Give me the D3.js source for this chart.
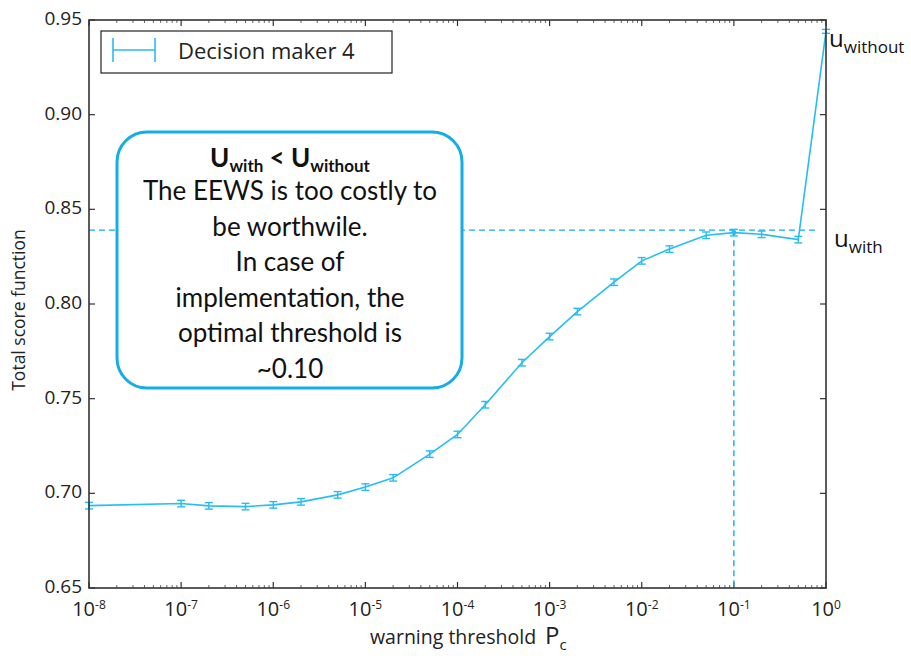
<!DOCTYPE html>
<html>
<head>
<meta charset="utf-8">
<script src="https://cdn.jsdelivr.net/npm/d3@7"></script>
<style>
  html, body { margin: 0; padding: 0; background: #fff; }
  svg { display: block; }
</style>
</head>
<body>
<svg id="chart" width="911" height="658"></svg>
<script>
// ---- data ----
const thresholds = [1e-8, 1e-7, 2e-7, 5e-7, 1e-6, 2e-6, 5e-6, 1e-5, 2e-5, 5e-5, 1e-4, 2e-4, 5e-4, 1e-3, 2e-3, 5e-3, 1e-2, 2e-2, 5e-2, 1e-1, 2e-1, 5e-1, 1];
const scores = [0.6935, 0.6946, 0.6934, 0.6930, 0.6939, 0.6955, 0.6992, 0.7033, 0.7082, 0.7207, 0.7311, 0.7468, 0.7690, 0.7828, 0.7960, 0.8115, 0.8228, 0.8290, 0.8363, 0.8377, 0.8368, 0.8340, 0.9440];
const errors = [0.0012, 0.0012, 0.0012, 0.0012, 0.0012, 0.0012, 0.0012, 0.0012, 0.0012, 0.0012, 0.0012, 0.0012, 0.0012, 0.0012, 0.0012, 0.0012, 0.0012, 0.0012, 0.0012, 0.0012, 0.0012, 0.0012, 0.0005];
const xTickExps = [-8, -7, -6, -5, -4, -3, -2, -1, 0];
const yTicks = [0.65, 0.70, 0.75, 0.80, 0.85, 0.90, 0.95];
const uWith = 0.839;
const optimalThreshold = 0.1;
const dashedHStart = 1e-8, dashedHEnd = 0.8;
const seriesName = "Decision maker 4";
const boxLines = ["The EEWS is too costly to", "be worthwile.", "In case of", "implementation, the", "optimal threshold is", "~0.10"];

// ---- layout ----
const svg = d3.select("#chart");
const L = 89, R = 826, T = 20, B = 588;
const x = d3.scaleLog().domain([1e-8, 1]).range([L, R]);
const y = d3.scaleLinear().domain([0.65, 0.95]).range([B, T]);
const lineColor = "#27bdf4";
const dashColor = "#1aa9e6";
const axisColor = "#333";
const tickFont = "'Open Sans', sans-serif";

// minor + major x ticks (inward, top and bottom)
const minorX = [];
for (let e = -8; e < 0; e++) for (let m = 2; m <= 9; m++) minorX.push(m * Math.pow(10, e));
const gT = svg.append("g");
gT.selectAll("line.minb").data(minorX).join("line")
  .attr("x1", d => x(d)).attr("x2", d => x(d)).attr("y1", B).attr("y2", B - 3)
  .attr("stroke", "#666").attr("stroke-width", 1);
gT.selectAll("line.mint").data(minorX).join("line")
  .attr("x1", d => x(d)).attr("x2", d => x(d)).attr("y1", T).attr("y2", T + 3)
  .attr("stroke", "#666").attr("stroke-width", 1);
gT.selectAll("line.majb").data(xTickExps).join("line")
  .attr("x1", d => x(Math.pow(10, d))).attr("x2", d => x(Math.pow(10, d))).attr("y1", B).attr("y2", B - 6)
  .attr("stroke", axisColor).attr("stroke-width", 1.2);
gT.selectAll("line.majt").data(xTickExps).join("line")
  .attr("x1", d => x(Math.pow(10, d))).attr("x2", d => x(Math.pow(10, d))).attr("y1", T).attr("y2", T + 6)
  .attr("stroke", axisColor).attr("stroke-width", 1.2);
gT.selectAll("line.yl").data(yTicks).join("line")
  .attr("x1", L).attr("x2", L + 6).attr("y1", d => y(d)).attr("y2", d => y(d))
  .attr("stroke", axisColor).attr("stroke-width", 1.2);
gT.selectAll("line.yr").data(yTicks).join("line")
  .attr("x1", R).attr("x2", R - 6).attr("y1", d => y(d)).attr("y2", d => y(d))
  .attr("stroke", axisColor).attr("stroke-width", 1.2);

// x tick labels
const xl = svg.append("g").selectAll("text").data(xTickExps).join("text")
  .attr("x", d => x(Math.pow(10, d))).attr("y", 616)
  .attr("text-anchor", "middle").attr("font-family", tickFont).attr("font-size", 20).attr("fill", "#222");
xl.append("tspan").text("10");
xl.append("tspan").attr("font-size", 12).attr("dy", -7).text(d => d === 0 ? "0" : "-" + Math.abs(d));

// y tick labels
svg.append("g").selectAll("text").data(yTicks).join("text")
  .attr("x", 82).attr("y", d => y(d) + 5)
  .attr("text-anchor", "end").attr("font-family", tickFont).attr("font-size", 19).attr("fill", "#222")
  .text(d => d.toFixed(2));

// axis labels
svg.append("text").attr("transform", `translate(25,${(T + B) / 2 + 6}) rotate(-90)`)
  .attr("text-anchor", "middle").attr("font-family", tickFont).attr("font-size", 17.5).attr("fill", "#222")
  .text("Total score function");
const xlab = svg.append("text").attr("x", 370).attr("y", 644)
  .attr("font-family", tickFont).attr("font-size", 19.5).attr("fill", "#222");
xlab.append("tspan").text("warning threshold");
xlab.append("tspan").attr("dx", 9).attr("font-size", 24).text("P");
xlab.append("tspan").attr("font-size", 15).attr("dy", 6).text("c");

// dashed reference lines
svg.append("line")
  .attr("x1", x(dashedHStart)).attr("x2", x(dashedHEnd)).attr("y1", y(uWith)).attr("y2", y(uWith))
  .attr("stroke", dashColor).attr("stroke-width", 1.4).attr("stroke-dasharray", "6,4");
svg.append("line")
  .attr("x1", x(optimalThreshold)).attr("x2", x(optimalThreshold)).attr("y1", y(uWith)).attr("y2", B)
  .attr("stroke", dashColor).attr("stroke-width", 1.4).attr("stroke-dasharray", "6,4");

// data line
const pts = thresholds.map((t, i) => ({ t, v: scores[i], e: errors[i] }));
svg.append("path").datum(pts)
  .attr("d", d3.line().x(d => x(d.t)).y(d => y(d.v)))
  .attr("fill", "none").attr("stroke", lineColor).attr("stroke-width", 1.6);
const eb = svg.append("g").selectAll("g").data(pts).join("g").attr("stroke", lineColor).attr("stroke-width", 1.4);
eb.append("line").attr("x1", d => x(d.t)).attr("x2", d => x(d.t)).attr("y1", d => y(d.v - d.e) + 1).attr("y2", d => y(d.v + d.e) - 1);
eb.append("line").attr("x1", d => x(d.t) - 4).attr("x2", d => x(d.t) + 4).attr("y1", d => y(d.v + d.e) - 1).attr("y2", d => y(d.v + d.e) - 1);
eb.append("line").attr("x1", d => x(d.t) - 4).attr("x2", d => x(d.t) + 4).attr("y1", d => y(d.v - d.e) + 1).attr("y2", d => y(d.v - d.e) + 1);
svg.append("circle").attr("cx", x(optimalThreshold)).attr("cy", y(scores[thresholds.indexOf(optimalThreshold)]))
  .attr("r", 2.5).attr("fill", lineColor);

// frame
svg.append("rect").attr("x", L).attr("y", T).attr("width", R - L).attr("height", B - T)
  .attr("fill", "none").attr("stroke", axisColor).attr("stroke-width", 1.6);

// legend
svg.append("rect").attr("x", 101).attr("y", 31).attr("width", 291).attr("height", 42)
  .attr("fill", "#fff").attr("stroke", "#222").attr("stroke-width", 1.2);
const lg = svg.append("g").attr("stroke", lineColor).attr("stroke-width", 1.6);
lg.append("line").attr("x1", 113).attr("x2", 155).attr("y1", 50).attr("y2", 50);
lg.append("line").attr("x1", 113).attr("x2", 113).attr("y1", 38).attr("y2", 62);
lg.append("line").attr("x1", 155).attr("x2", 155).attr("y1", 38).attr("y2", 62);
svg.append("text").attr("x", 178).attr("y", 59).attr("font-family", tickFont).attr("font-size", 22).attr("fill", "#222")
  .text(seriesName);

// annotation box
svg.append("rect").attr("x", 117).attr("y", 132).attr("width", 345).attr("height", 256).attr("rx", 30).attr("ry", 30)
  .attr("fill", "#fff").attr("stroke", "#14ade8").attr("stroke-width", 3);
const boxFont = "Lato, 'Open Sans', sans-serif";
const t1 = svg.append("text").attr("x", 290).attr("y", 167).attr("text-anchor", "middle")
  .attr("font-family", boxFont).attr("font-weight", "bold").attr("font-size", 26).attr("fill", "#111");
t1.append("tspan").text("U");
t1.append("tspan").attr("font-size", 17).attr("dy", 5).text("with");
t1.append("tspan").attr("dy", -5).text(" < U");
t1.append("tspan").attr("font-size", 17).attr("dy", 5).text("without");
svg.append("g").selectAll("text").data(boxLines).join("text")
  .attr("x", 290).attr("y", (d, i) => 200 + i * 35.6).attr("text-anchor", "middle")
  .attr("font-family", boxFont).attr("font-size", 26).attr("fill", "#111").text(d => d);

// u labels
const uw = svg.append("text").attr("x", 829).attr("y", 47).attr("font-family", tickFont).attr("font-size", 24).attr("fill", "#111");
uw.append("tspan").text("u");
uw.append("tspan").attr("font-size", 17).attr("dy", 6).text("without");
const uwi = svg.append("text").attr("x", 834).attr("y", 247).attr("font-family", tickFont).attr("font-size", 24).attr("fill", "#111");
uwi.append("tspan").text("u");
uwi.append("tspan").attr("font-size", 17).attr("dy", 6).text("with");
</script>
</body>
</html>
